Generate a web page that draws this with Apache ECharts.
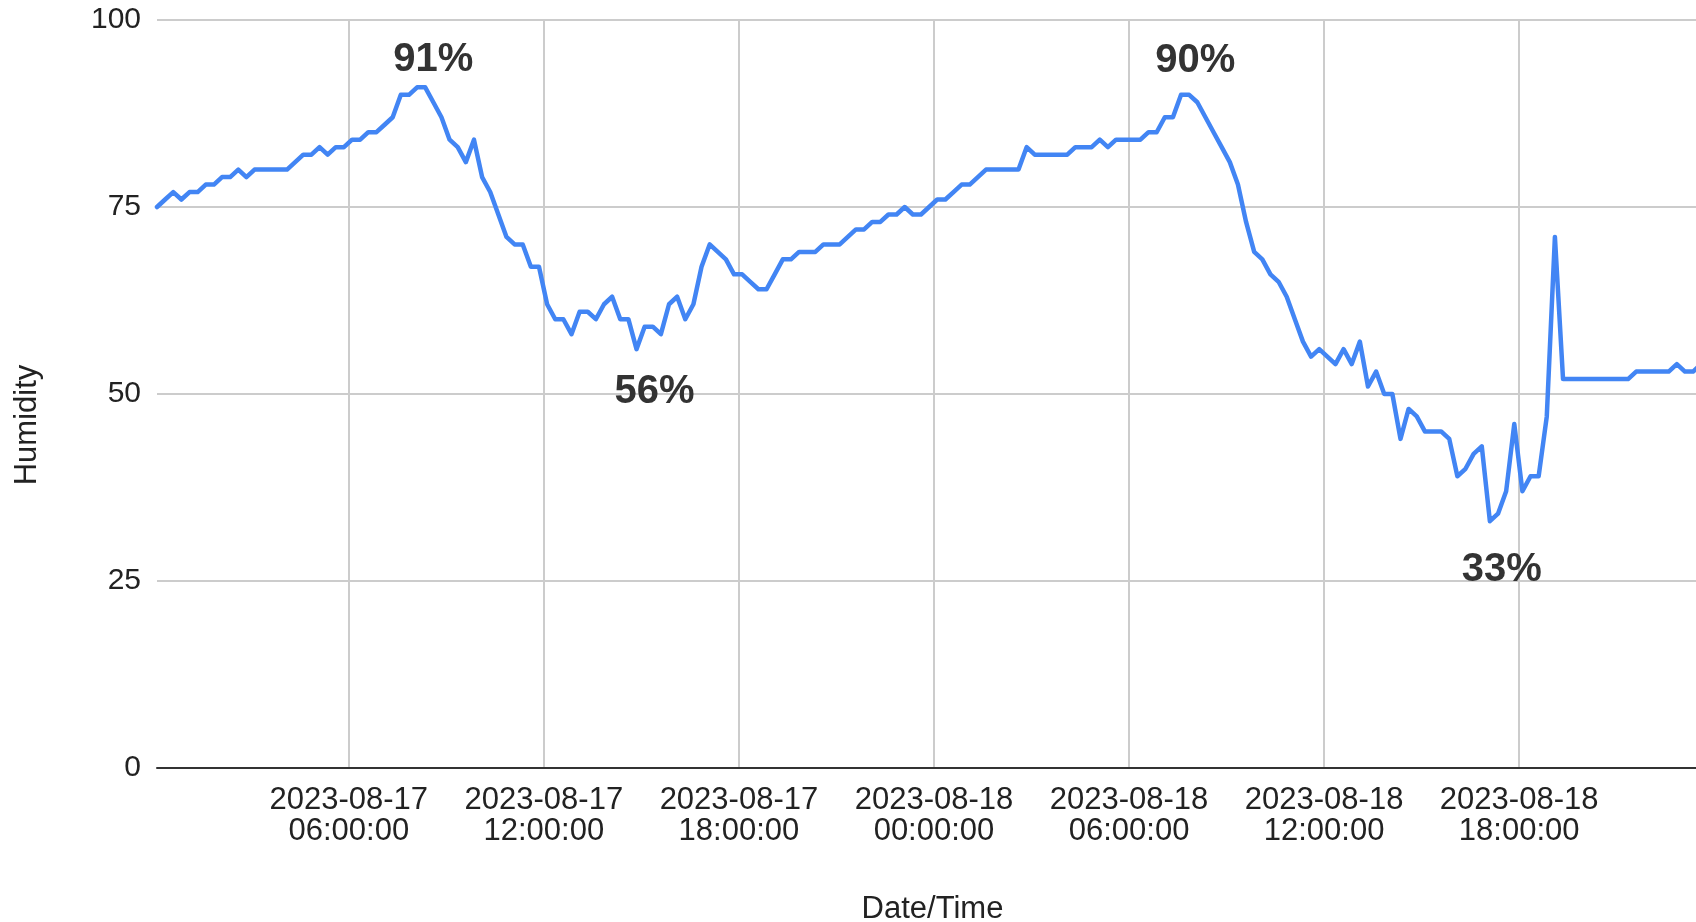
<!DOCTYPE html>
<html>
<head>
<meta charset="utf-8">
<title>Humidity</title>
<script src="https://cdn.jsdelivr.net/npm/echarts@6/dist/echarts.min.js"></script>
<style>
  html, body { margin: 0; padding: 0; background: #ffffff; }
  #chart { width: 1696px; height: 922px; }
</style>
</head>
<body>
<div id="chart"></div>
<script>
// Sensor readings: one sample every 15 minutes, starting at FIRST_SAMPLE.
const FIRST_SAMPLE = '2023-08-17 00:06:00';
const SAMPLE_MINUTES = 15;
const AXIS_END = '2023-08-18 23:26:24';

// Relative humidity (%) per sample
const HUMIDITY = [
  75, 76, 77, 76, 77, 77, 78, 78, 79, 79,
  80, 79, 80, 80, 80, 80, 80, 81, 82, 82,
  83, 82, 83, 83, 84, 84, 85, 85, 86, 87,
  90, 90, 91, 91, 89, 87, 84, 83, 81, 84,
  79, 77, 74, 71, 70, 70, 67, 67, 62, 60,
  60, 58, 61, 61, 60, 62, 63, 60, 60, 56,
  59, 59, 58, 62, 63, 60, 62, 67, 70, 69,
  68, 66, 66, 65, 64, 64, 66, 68, 68, 69,
  69, 69, 70, 70, 70, 71, 72, 72, 73, 73,
  74, 74, 75, 74, 74, 75, 76, 76, 77, 78,
  78, 79, 80, 80, 80, 80, 80, 83, 82, 82,
  82, 82, 82, 83, 83, 83, 84, 83, 84, 84,
  84, 84, 85, 85, 87, 87, 90, 90, 89, 87,
  85, 83, 81, 78, 73, 69, 68, 66, 65, 63,
  60, 57, 55, 56, 55, 54, 56, 54, 57, 51,
  53, 50, 50, 44, 48, 47, 45, 45, 45, 44,
  39, 40, 42, 43, 33, 34, 37, 46, 37, 39,
  39, 47, 71, 52, 52, 52, 52, 52, 52, 52,
  52, 52, 53, 53, 53, 53, 53, 54, 53, 53,
  54
];

// Samples called out with their value (peaks and troughs)
const ANNOTATED = [33, 59, 127, 164];

// Date/time tick labels
const TICK_LABELS = [
  '2023-08-17 06:00:00',
  '2023-08-17 12:00:00',
  '2023-08-17 18:00:00',
  '2023-08-18 00:00:00',
  '2023-08-18 06:00:00',
  '2023-08-18 12:00:00',
  '2023-08-18 18:00:00'
];

const Y_TICKS = { min: 0, max: 100, interval: 25 };

// Timestamps are kept as minutes since midnight of the first day.
function toMinutes(s) {
  const [d, t] = s.split(' ');
  const [Y, M, D] = d.split('-').map(Number);
  const [h, m, sec] = t.split(':').map(Number);
  const dayIndex = Math.round((Date.UTC(Y, M - 1, D) - Date.UTC(2023, 7, 17)) / 86400000);
  return dayIndex * 1440 + h * 60 + m + sec / 60;
}

const startMin = toMinutes(FIRST_SAMPLE);
const timeAt = i => startMin + i * SAMPLE_MINUTES;
const seriesData = HUMIDITY.map((v, i) => [timeAt(i), v]);
const tickMin = TICK_LABELS.map(toMinutes);

const FONT = '"Liberation Sans", Arial, sans-serif';
const TEXT = '#222222';

// Placement of each callout relative to its sample (px)
const calloutOffset = {
  33: [8, -27],
  59: [18, 43],
  127: [6, -34],
  164: [12, 49]
};

const chart = echarts.init(document.getElementById('chart'), null, { renderer: 'canvas' });

chart.setOption({
  animation: false,
  backgroundColor: '#ffffff',
  grid: {
    left: 157, right: 0, top: 20, bottom: 154,
    containLabel: false,
    outerBoundsMode: 'none'
  },
  xAxis: {
    type: 'value',
    min: startMin,
    max: toMinutes(AXIS_END),
    name: 'Date/Time',
    nameLocation: 'middle',
    nameGap: 126,
    nameTextStyle: {
      fontFamily: FONT, fontSize: 31, color: TEXT, lineHeight: 31,
      padding: [0, 0, 0, 12]
    },
    axisLine: { show: true, onZero: false, lineStyle: { color: '#333333', width: 2 } },
    axisTick: { show: false, customValues: tickMin },
    axisLabel: {
      customValues: tickMin,
      margin: 17,
      fontFamily: FONT,
      fontSize: 31,
      lineHeight: 31,
      color: TEXT,
      align: 'center',
      formatter: v => {
        let k = -1;
        tickMin.forEach((t, j) => { if (Math.abs(t - v) < 0.01) k = j; });
        return k >= 0 ? TICK_LABELS[k].replace(' ', '\n') : '';
      }
    },
    splitLine: { show: true, lineStyle: { color: '#cccccc', width: 2 } }
  },
  yAxis: {
    type: 'value',
    min: Y_TICKS.min,
    max: Y_TICKS.max,
    interval: Y_TICKS.interval,
    name: 'Humidity',
    nameLocation: 'middle',
    nameRotate: 90,
    nameGap: 114,
    nameTextStyle: {
      fontFamily: FONT, fontSize: 31, color: TEXT, lineHeight: 31,
      padding: [0, 62, 0, 0]
    },
    axisLine: { show: false },
    axisTick: { show: false },
    axisLabel: { margin: 16, fontFamily: FONT, fontSize: 30, color: TEXT },
    splitLine: { show: true, lineStyle: { color: '#cccccc', width: 2 } }
  },
  series: [{
    type: 'line',
    data: seriesData,
    showSymbol: false,
    clip: true,
    lineStyle: { color: '#4285f4', width: 4.5, join: 'round', cap: 'round' },
    itemStyle: { color: '#4285f4' },
    emphasis: { disabled: true },
    markPoint: {
      symbol: 'circle',
      symbolSize: 0,
      silent: true,
      label: {
        show: true,
        position: 'inside',
        fontFamily: FONT,
        fontSize: 40,
        fontWeight: 'bold',
        color: '#333333',
        formatter: p => p.value + '%'
      },
      data: ANNOTATED.map(i => ({
        coord: [timeAt(i), HUMIDITY[i]],
        value: HUMIDITY[i],
        label: { offset: calloutOffset[i] }
      }))
    }
  }]
});
</script>
</body>
</html>
